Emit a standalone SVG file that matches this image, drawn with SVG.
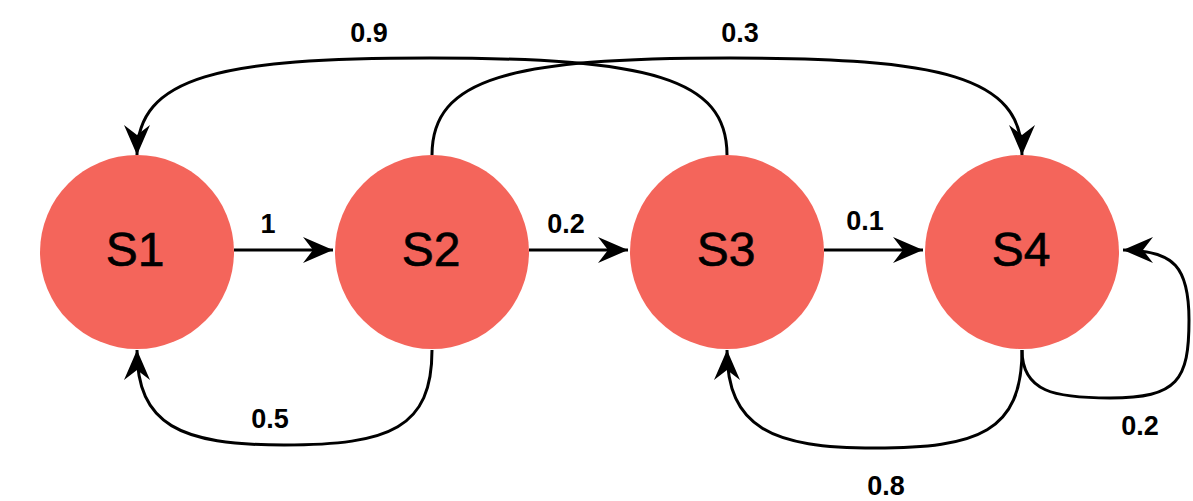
<svg xmlns="http://www.w3.org/2000/svg" width="1193" height="501" viewBox="0 0 1193 501">
  <defs>
    <style>
      .node { fill: #f4655b; }
      .nlabel { font-family: "Liberation Sans", Arial, sans-serif; font-size: 48px; fill: #000; text-anchor: middle; stroke: #000; stroke-width: 0.6; }
      .elabel { font-family: "Liberation Sans", Arial, sans-serif; font-size: 27px; font-weight: bold; fill: #000; text-anchor: middle; }
      .edge { fill: none; stroke: #000; stroke-width: 3; marker-end: url(#arrow); }
    </style>
    <marker id="arrow" viewBox="0 0 30 26" refX="30" refY="13" markerWidth="30" markerHeight="26" markerUnits="userSpaceOnUse" orient="auto">
      <path d="M0,0 L30,13 L0,26 L10,13 Z" fill="#000"/>
    </marker>
  </defs>
  <rect width="1193" height="501" fill="#fff"/>

  <g id="S1">
    <circle class="node" cx="137" cy="252" r="97"/>
    <text class="nlabel" x="135" y="266">S1</text>
  </g>
  <g id="S2">
    <circle class="node" cx="432" cy="252" r="97"/>
    <text class="nlabel" x="431" y="266">S2</text>
  </g>
  <g id="S3">
    <circle class="node" cx="727" cy="252" r="97"/>
    <text class="nlabel" x="726" y="266">S3</text>
  </g>
  <g id="S4">
    <circle class="node" cx="1022" cy="252" r="97"/>
    <text class="nlabel" x="1021" y="266">S4</text>
  </g>

  <g id="connectors">
    <path class="edge" d="M234 250 L333 250"/>
    <path class="edge" d="M529 250 L628 250"/>
    <path class="edge" d="M824 250 L923 250"/>
    <path class="edge" d="M727 155 C727 78 650 58 430 58 C220 58 137 76 137 155"/>
    <path class="edge" d="M432 155 C432 78 510 58 730 58 C940 58 1022 76 1022 155"/>
    <path class="edge" d="M432 350 C432 428 390 445 284 445 C180 445 137 425 137 350"/>
    <path class="edge" d="M1022 350 C1022 432 978 448 875 448 C772 448 727 428 727 350"/>
    <path class="edge" d="M1022 350 C1022 392 1055 398 1110 398 C1178 398 1189 380 1189 320 C1189 268 1175 250 1123 250"/>
  </g>

  <g id="labels">
    <text class="elabel" x="369" y="42">0.9</text>
    <text class="elabel" x="740" y="42">0.3</text>
    <text class="elabel" x="268" y="233">1</text>
    <text class="elabel" x="566" y="233">0.2</text>
    <text class="elabel" x="865" y="230">0.1</text>
    <text class="elabel" x="270" y="428">0.5</text>
    <text class="elabel" x="886" y="495">0.8</text>
    <text class="elabel" x="1140" y="435">0.2</text>
  </g>
</svg>
